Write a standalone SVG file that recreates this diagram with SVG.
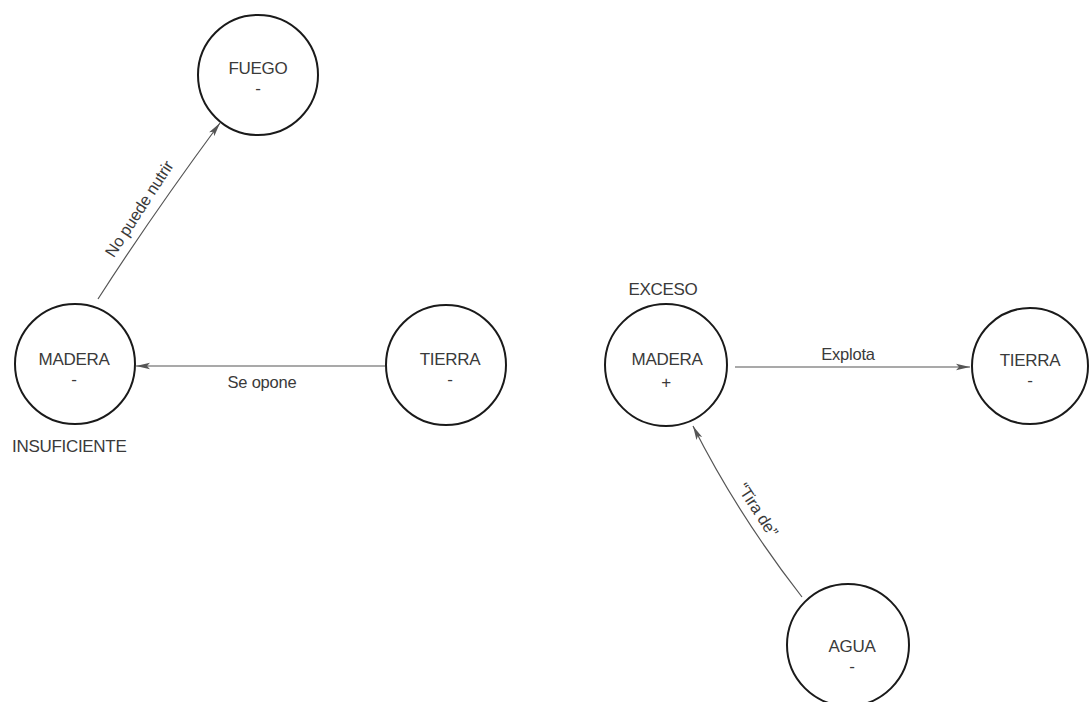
<svg xmlns="http://www.w3.org/2000/svg" width="1092" height="702" viewBox="0 0 1092 702">
<defs>
<style>
.node{fill:#fff;stroke:#1a1a1a;stroke-width:2}
.t{font-family:"Liberation Sans",Arial,sans-serif;font-size:17px;fill:#3a3a3a;text-anchor:middle;letter-spacing:-0.3px}
.lbl{font-family:"Liberation Sans",Arial,sans-serif;font-size:16.5px;fill:#3a3a3a;text-anchor:middle;letter-spacing:-0.2px}
.edge{fill:none;stroke:#555;stroke-width:1.2}
</style>
<marker id="arr" viewBox="0 0 14 8" refX="14" refY="4" markerWidth="14" markerHeight="8" markerUnits="userSpaceOnUse" orient="auto">
<path d="M0,0.8 L14,4 L0,7.2 L3,4 Z" fill="#555"/>
</marker>
</defs>
<rect width="1092" height="702" fill="#fff"/>
<g id="connectors">
<path class="edge" d="M98,299 Q150,218 220,123" marker-end="url(#arr)"/>
<path class="edge" d="M385,366 L136,366" marker-end="url(#arr)"/>
<path class="edge" d="M735,367 L970,367" marker-end="url(#arr)"/>
<path class="edge" d="M802,597 Q738,515 693,426" marker-end="url(#arr)"/>
<text class="lbl" transform="translate(144,212) rotate(-57)">No puede nutrir</text>
<text class="lbl" x="262" y="388">Se opone</text>
<text class="lbl" x="848" y="360">Explota</text>
<text class="lbl" transform="translate(753,513) rotate(57)">“Tira de”</text>
</g>
<g id="fuego">
<circle class="node" cx="258" cy="75" r="60"/>
<text class="t" x="258" y="74">FUEGO</text>
<text class="t" x="258" y="94">-</text>
</g>
<g id="madera-insuf">
<circle class="node" cx="75" cy="364" r="60"/>
<text class="t" x="74" y="365">MADERA</text>
<text class="t" x="74" y="385">-</text>
<text class="t" x="12" y="452" style="text-anchor:start">INSUFICIENTE</text>
</g>
<g id="tierra-1">
<circle class="node" cx="446" cy="365" r="60"/>
<text class="t" x="450" y="365">TIERRA</text>
<text class="t" x="450" y="385">-</text>
</g>
<g id="madera-exceso">
<circle class="node" cx="666" cy="365" r="61"/>
<text class="t" x="663" y="295">EXCESO</text>
<text class="t" x="667" y="365">MADERA</text>
<text class="t" x="666" y="388">+</text>
</g>
<g id="tierra-2">
<circle class="node" cx="1030" cy="366" r="58"/>
<text class="t" x="1030" y="366">TIERRA</text>
<text class="t" x="1030" y="386">-</text>
</g>
<g id="agua">
<circle class="node" cx="848" cy="645" r="61"/>
<text class="t" x="852" y="652">AGUA</text>
<text class="t" x="852" y="672">-</text>
</g>
</svg>
